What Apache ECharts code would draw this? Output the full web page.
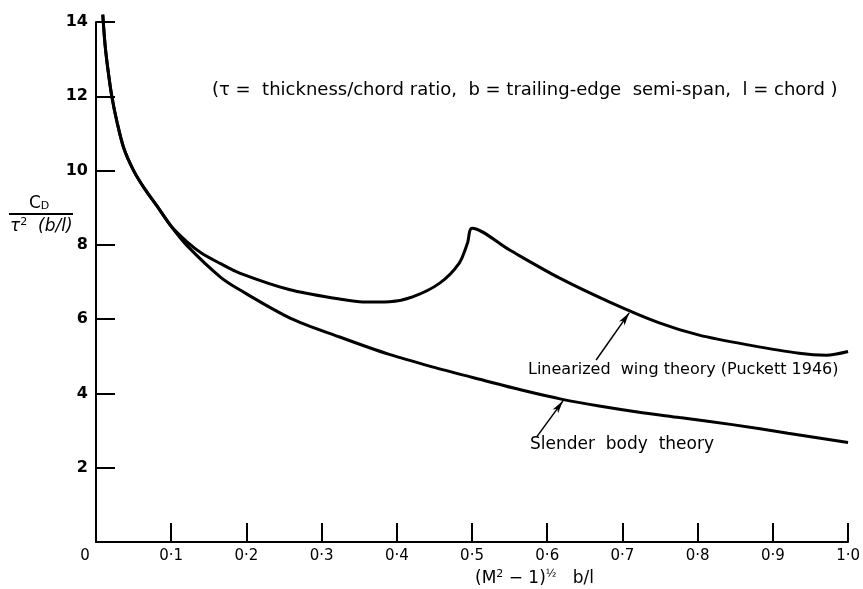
<!DOCTYPE html>
<html>
<head>
<meta charset="utf-8">
<script src="https://cdn.jsdelivr.net/npm/echarts@6/dist/echarts.min.js"></script>
<style>
html,body{margin:0;padding:0;background:#fff;}
#chart{width:863px;height:589px;}
</style>
</head>
<body>
<div id="chart"></div>
<script>
// ---- data ----
const slenderX = [0.009,0.012,0.016,0.021,0.028,0.037,0.05,0.065,0.081,0.1,0.121,0.165,0.191,0.258,0.324,0.39,0.45,0.51,0.57,0.62,0.669,0.72,0.776,0.846,0.92,1.0];
const slenderY = [14.2,13.4,12.7,12.0,11.3,10.6,10.0,9.5,9.05,8.5,7.98,7.14,6.79,6.03,5.52,5.05,4.7,4.38,4.07,3.84,3.66,3.5,3.35,3.16,2.93,2.68];

const wingX = [0.009,0.012,0.016,0.021,0.028,0.037,0.05,0.065,0.081,0.1,0.121,0.14,0.165,0.191,0.258,0.324,0.355,0.39,0.421,0.457,0.483,0.494,0.5,0.55,0.616,0.683,0.749,0.802,0.869,0.935,0.971,1.0];
const wingY = [14.2,13.4,12.7,12.0,11.3,10.6,10.0,9.5,9.05,8.5,8.08,7.78,7.5,7.24,6.79,6.54,6.46,6.47,6.6,6.97,7.51,8.05,8.45,7.86,7.11,6.46,5.9,5.57,5.3,5.08,5.03,5.13];

const xTicks = [0,0.1,0.2,0.3,0.4,0.5,0.6,0.7,0.8,0.9,1.0];
const yTicks = [0,2,4,6,8,10,12,14];

// annotation arrows (data space): tail -> head
const wingArrow = [[0.665,4.9],[0.709,6.17]];
const slenderArrow = [[0.586,2.83],[0.621,3.8]];

const pairs = (xs, ys) => xs.map((x, i) => [x, ys[i]]);

const chart = echarts.init(document.getElementById('chart'), null, {renderer:'canvas'});
const FONT = 'DejaVu Sans';
const INK = '#000';

const arrowMark = (a) => ({
  silent: true,
  symbol: ['none','arrow'],
  symbolSize: [5, 13],
  animation: false,
  label: {show: false},
  lineStyle: {color: INK, width: 1.5, type: 'solid'},
  data: [[{coord: a[0]}, {coord: a[1]}]]
});

chart.setOption({
  animation: false,
  backgroundColor: '#fff',
  grid: {left: 96, right: 14, top: 22, bottom: 47},
  xAxis: {
    type: 'value', min: xTicks[0], max: xTicks[xTicks.length-1], interval: 0.1,
    axisLine: {lineStyle: {color: INK, width: 2}},
    axisTick: {show: true, inside: true, length: 19, lineStyle: {color: INK, width: 2}},
    splitLine: {show: false},
    axisLabel: {
      color: INK, fontFamily: FONT, fontSize: 15, margin: 7,
      formatter: v => v === 0 ? '{z|0}' : v.toFixed(1).replace('.', '·'),
      rich: {z: {padding: [0, 22, 0, 0], fontSize: 15, fontFamily: FONT, color: INK}}
    }
  },
  yAxis: {
    type: 'value', min: yTicks[0], max: yTicks[yTicks.length-1], interval: 2,
    axisLine: {show: true, lineStyle: {color: INK, width: 2}},
    axisTick: {show: true, inside: true, length: 19, lineStyle: {color: INK, width: 2}},
    splitLine: {show: false},
    axisLabel: {
      color: INK, fontFamily: FONT, fontSize: 16, fontWeight: 'bold', margin: 8,
      formatter: v => v === 0 ? '' : String(v)
    }
  },
  series: [
    {
      name: 'Slender body theory', type: 'line', data: pairs(slenderX, slenderY),
      showSymbol: false, smooth: 0.3, clip: false,
      lineStyle: {color: INK, width: 3}, z: 3,
      markLine: arrowMark(slenderArrow)
    },
    {
      name: 'Linearized wing theory (Puckett 1946)', type: 'line', data: pairs(wingX, wingY),
      showSymbol: false, smooth: 0.3, clip: false,
      lineStyle: {color: INK, width: 3}, z: 3,
      markLine: arrowMark(wingArrow)
    }
  ],
  graphic: [
    {type: 'text', left: 212, top: 81,
     style: {text: '(τ =  thickness/chord ratio,  b = trailing-edge  semi-span,  l = chord )', font: '18px "DejaVu Sans"', fill: INK}},
    {type: 'text', left: 528, top: 362,
     style: {text: 'Linearized  wing theory (Puckett 1946)', font: '16px "DejaVu Sans"', fill: INK}},
    {type: 'text', left: 530, top: 436,
     style: {text: 'Slender  body  theory', font: '17px "DejaVu Sans"', fill: INK}},
    // y-axis name (fraction)
    {type: 'text', left: 29, top: 195,
     style: {text: '{c|C}{d|D}', fill: INK,
       rich: {c: {fontSize: 17, fontFamily: FONT, fill: INK, lineHeight: 19, verticalAlign: 'bottom'},
              d: {fontSize: 11, fontFamily: FONT, fill: INK, lineHeight: 19, verticalAlign: 'bottom', padding: [5,0,0,0]}}}},
    {type: 'line', shape: {x1: 9, y1: 214, x2: 73, y2: 214}, style: {stroke: INK, lineWidth: 2}},
    {type: 'text', left: 10, top: 217,
     style: {text: '{t|τ}{s|2}{t|  (b/l)}', fill: INK,
       rich: {t: {fontSize: 17, fontFamily: FONT, fill: INK, lineHeight: 20, fontStyle: 'italic'},
              s: {fontSize: 11, fontFamily: FONT, fill: INK, lineHeight: 20, verticalAlign: 'top'}}}},
    // x-axis name
    {type: 'text', left: 475, top: 569,
     style: {text: '{n|(M}{s|2}{n| − 1)}{s|½}{n|   b/l}', fill: INK,
       rich: {n: {fontSize: 17, fontFamily: FONT, fill: INK, lineHeight: 20},
              s: {fontSize: 11, fontFamily: FONT, fill: INK, lineHeight: 20, verticalAlign: 'top'}}}}
  ]
});
</script>
</body>
</html>
